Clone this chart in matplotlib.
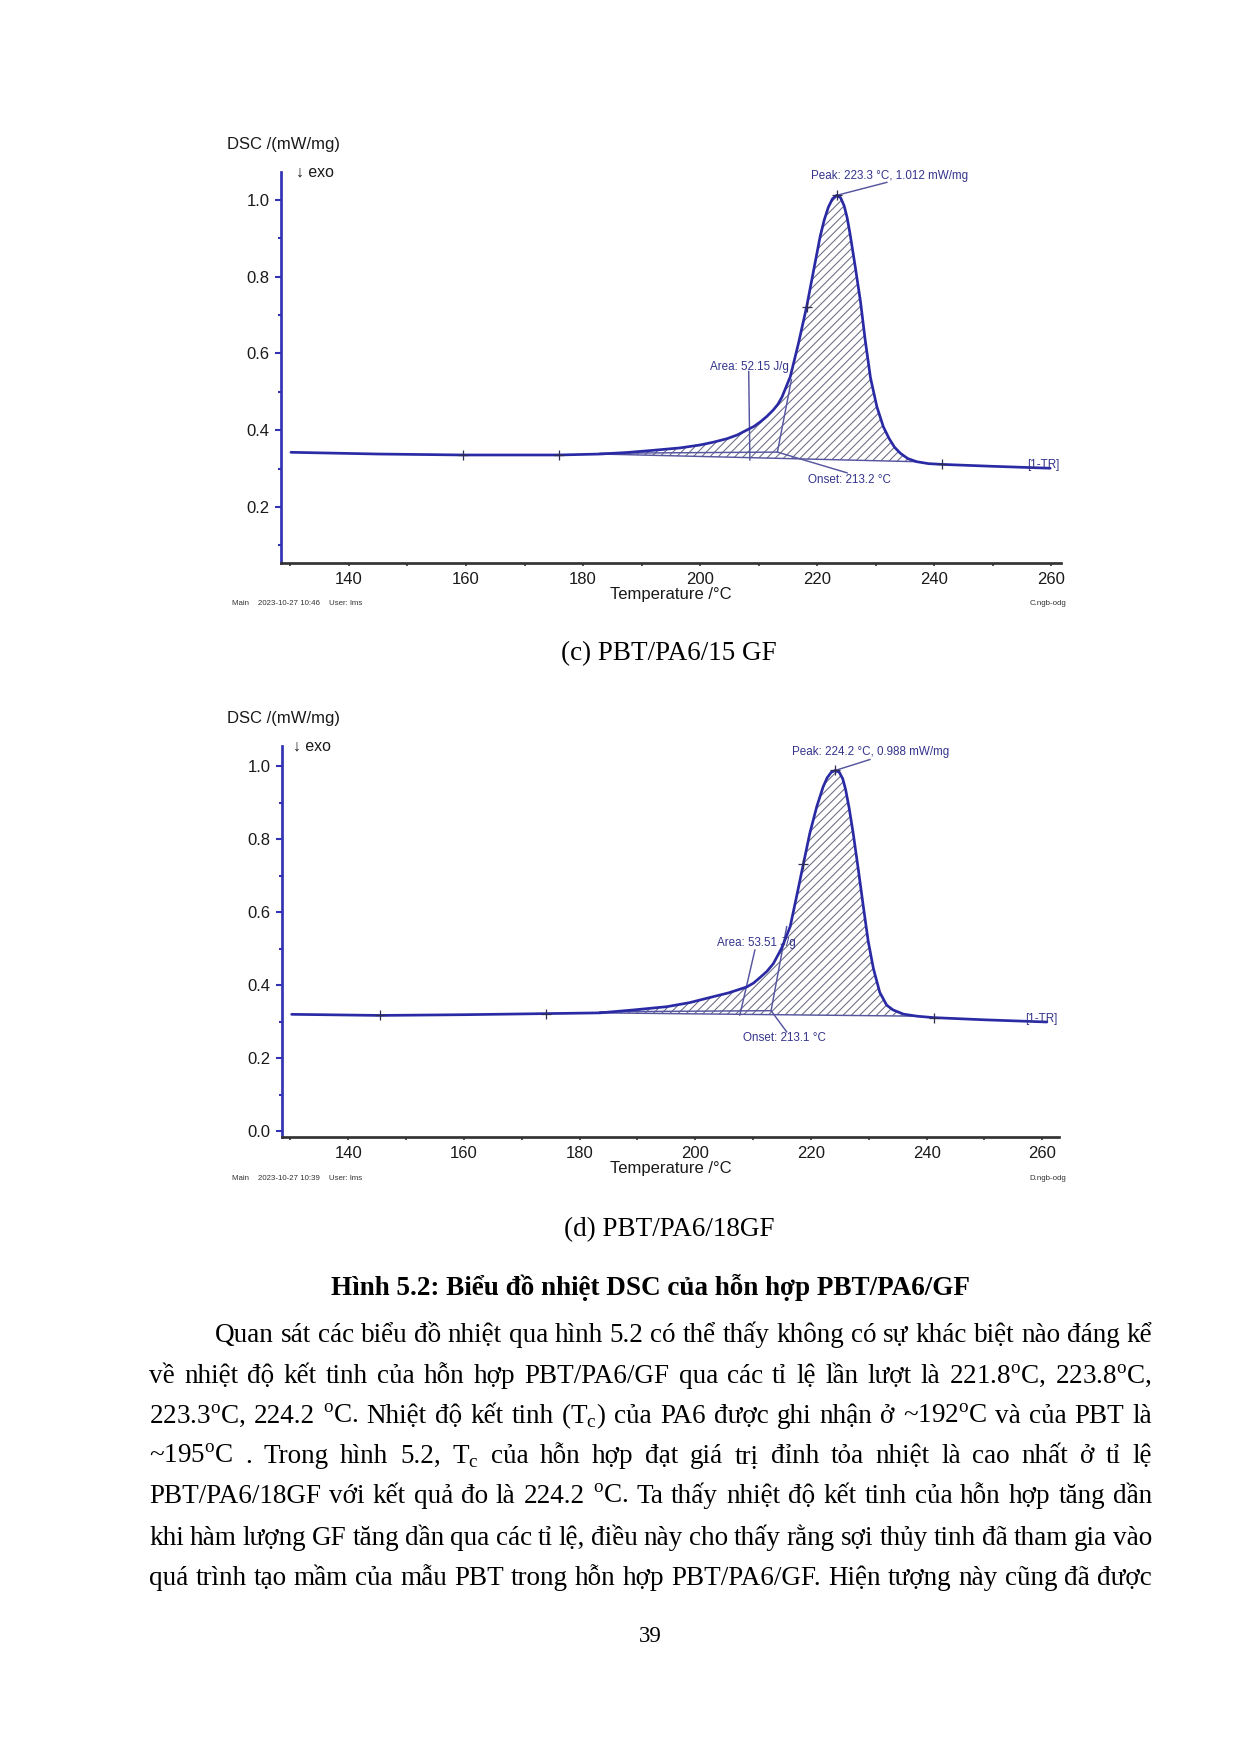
import numpy as np
import matplotlib
matplotlib.use('Agg')
import matplotlib.pyplot as plt
from matplotlib.ticker import MultipleLocator, FixedLocator

# ---- data ----
temp_c = [130.1, 145.0, 159.5, 175.9, 182.9, 187.5, 191.5, 196.6, 200.0, 202.3,
          204.6, 206.4, 208.0, 209.2, 210.3, 211.4, 212.5, 213.3, 214.0, 215.4,
          216.8, 218.2, 219.4, 220.5, 221.2, 221.9, 222.6, 223.3, 224.0, 224.6,
          225.1, 225.6, 226.5, 227.4, 228.2, 229.1, 230.2, 231.3, 232.3, 233.2,
          234.2, 235.5, 237.0, 239.0, 241.3, 250.0, 259.8]
dsc_c = [0.3425, 0.338, 0.3355, 0.3355, 0.338, 0.342, 0.347, 0.354, 0.3616, 0.369,
         0.378, 0.388, 0.4007, 0.410, 0.422, 0.436, 0.4528, 0.468, 0.487, 0.5395,
         0.6265, 0.722, 0.8176, 0.9044, 0.948, 0.981, 1.003, 1.012, 1.006, 0.985,
         0.955, 0.913, 0.826, 0.735, 0.635, 0.537, 0.461, 0.409, 0.378, 0.356,
         0.340, 0.326, 0.318, 0.313, 0.311, 0.306, 0.301]

temp_d = [130.2, 145.5, 160.0, 174.2, 183.5, 189.3, 195.1, 199.0, 202.5, 205.8,
          208.9, 210.1, 211.2, 212.4, 213.5, 214.9, 216.4, 217.5, 218.7, 219.8,
          221.0, 222.1, 222.8, 223.5, 224.2, 224.9, 225.5, 226.0, 226.6, 227.3,
          228.2, 229.1, 229.9, 230.8, 231.9, 233.1, 234.2, 236.0, 238.3, 241.2,
          250.0, 260.8]
dsc_d = [0.320, 0.317, 0.319, 0.322, 0.324, 0.332, 0.341, 0.352, 0.366, 0.379,
         0.395, 0.406, 0.421, 0.438, 0.459, 0.5005, 0.560, 0.642, 0.733, 0.816,
         0.889, 0.943, 0.968, 0.983, 0.988, 0.983, 0.965, 0.935, 0.885, 0.816,
         0.715, 0.610, 0.520, 0.445, 0.380, 0.345, 0.332, 0.3205, 0.315, 0.311,
         0.305, 0.299]

# cursor marks (+) placed by the software
marks_c = [(159.5, 0.3355), (175.9, 0.3355), (218.2, 0.722), (223.3, 1.012), (241.3, 0.311)]
marks_d = [(145.5, 0.317), (174.2, 0.322), (218.7, 0.733), (224.2, 0.988), (241.2, 0.311)]

# evaluation: integration range, onset construction
integ_c = (182.9, 237.0)
integ_d = (183.5, 238.3)
ext_base_c = [(182.9, 0.340), (213.2, 0.343)]
ext_base_d = [(183.5, 0.327), (213.1, 0.330)]
tangent_c = [(215.6, 0.532), (213.2, 0.343)]
tangent_d = [(215.8, 0.560), (213.1, 0.330)]
area_lead_c = [(208.3, 0.553), (208.5, 0.3225)]
area_lead_d = [(210.3, 0.496), (207.7, 0.318)]
onset_lead_c = [(213.2, 0.343), (225.1, 0.289)]
onset_lead_d = [(213.1, 0.330), (215.8, 0.272)]
peak_lead_c = [(223.3, 1.012), (231.9, 1.046)]
peak_lead_d = [(224.2, 0.988), (230.2, 1.018)]

peak_txt_c = "Peak: 223.3 °C, 1.012 mW/mg"
peak_txt_d = "Peak: 224.2 °C, 0.988 mW/mg"
area_txt_c = "Area: 52.15 J/g"
area_txt_d = "Area: 53.51 J/g"
onset_txt_c = "Onset: 213.2 °C"
onset_txt_d = "Onset: 213.1 °C"

W, H, DPI = 1240, 1754, 150
plt.rcParams['mathtext.fontset'] = 'custom'
plt.rcParams['mathtext.rm'] = 'Liberation Serif'
plt.rcParams['hatch.linewidth'] = 0.5
SANS = ['Liberation Sans', 'DejaVu Sans']
SERIF = ['Liberation Serif', 'DejaVu Serif']

fig = plt.figure(figsize=(W / DPI, H / DPI), dpi=DPI)
fig.patch.set_facecolor('white')


def fx(px):
    return px / W


def fy(py):
    return 1 - py / H


CURVE = '#2a2aa5'
ANN = '#34348c'
BLUE_AX = '#3232b4'


def dsc_panel(box, xlim, ylim, yticks, T, D, marks, integ, ext_base, tangent,
              area_lead, onset_lead, peak_lead, txts, footer, fname, ylab_y, exo_xy):
    left, top, right, bottom = box
    ax = fig.add_axes([fx(left), fy(bottom), (right - left) / W, (bottom - top) / H])
    ax.set_xlim(*xlim)
    ax.set_ylim(*ylim)
    for s in ['top', 'right']:
        ax.spines[s].set_visible(False)
    ax.spines['left'].set_color(BLUE_AX)
    ax.spines['left'].set_linewidth(1.3)
    ax.spines['bottom'].set_color('#333333')
    ax.spines['bottom'].set_linewidth(1.3)
    ax.xaxis.set_major_locator(MultipleLocator(20))
    ax.xaxis.set_minor_locator(FixedLocator([130, 150, 170, 190, 210, 230, 250]))
    ax.yaxis.set_major_locator(FixedLocator(yticks))
    ax.yaxis.set_minor_locator(FixedLocator([0.1, 0.3, 0.5, 0.7, 0.9]))
    ax.yaxis.set_major_formatter(plt.FuncFormatter(lambda v, p: f"{v:.1f}"))
    ax.tick_params(axis='y', which='major', colors=BLUE_AX, length=3, width=1,
                   pad=2.4, labelcolor='#1a1a1a', labelsize=8)
    ax.tick_params(axis='y', which='minor', colors=BLUE_AX, length=1.5, width=1)
    ax.tick_params(axis='x', which='both', colors='#333333', length=1.6, width=0.8,
                   pad=2.6, labelcolor='#1a1a1a', labelsize=8)
    for lab in ax.get_xticklabels() + ax.get_yticklabels():
        lab.set_family(SANS)

    T = np.asarray(T)
    D = np.asarray(D)
    sel = (T >= integ[0]) & (T <= integ[1])
    ax.fill(T[sel], D[sel], facecolor='none', edgecolor='#6a6a82', hatch='//////',
            linewidth=0)
    ax.plot([T[sel][0], T[sel][-1]], [D[sel][0], D[sel][-1]], color='#5656a0', lw=0.7)
    for seg in (ext_base, tangent, area_lead, onset_lead, peak_lead):
        xs, ys = zip(*seg)
        ax.plot(xs, ys, color='#5656a0', lw=0.7)
    ax.plot(T, D, color=CURVE, lw=1.3, solid_joinstyle='round', solid_capstyle='round')
    mx, my = zip(*marks)
    ax.plot(mx, my, ls='none', marker='+', ms=5, mew=0.6, color='#2e2e55')

    for (tx, ty, s) in txts:
        ax.text(tx, ty, s, fontsize=5.6, color=ANN, family=SANS, va='center', ha='left')

    fig.text(fx(227), fy(ylab_y), "DSC /(mW/mg)", fontsize=8, family=SANS,
             color='#1a1a1a', va='center', ha='left')
    fig.text(fx(exo_xy[0]), fy(exo_xy[1]), "↓ exo", fontsize=7.6, family=SANS,
             color='#1a1a1a', va='center', ha='left')
    fig.text(fx((left + right) / 2), fy(bottom + 31), "Temperature /°C", fontsize=8,
             family=SANS, color='#1a1a1a', va='center', ha='center')
    fig.text(fx(232), fy(bottom + 41), footer, fontsize=3.8, family=SANS,
             color='#333333', va='center', ha='left')
    fig.text(fx(1066), fy(bottom + 41), fname, fontsize=3.8, family=SANS,
             color='#333333', va='center', ha='right')
    return ax


dsc_panel((281, 172, 1061, 563), (128.4, 261.65), (0.054, 1.073),
          [0.2, 0.4, 0.6, 0.8, 1.0], temp_c, dsc_c, marks_c, integ_c, ext_base_c,
          tangent_c, area_lead_c, onset_lead_c, peak_lead_c,
          [(218.9, 1.062, peak_txt_c), (201.7, 0.566, area_txt_c),
           (218.5, 0.270, onset_txt_c), (255.8, 0.309, "[1-TR]")],
          "Main    2023-10-27 10:46    User: lms", "C.ngb-odg", 145, (296, 172))

dsc_panel((281.7, 746, 1059.3, 1137), (128.48, 262.94), (-0.016, 1.055),
          [0.0, 0.2, 0.4, 0.6, 0.8, 1.0], temp_d, dsc_d, marks_d, integ_d, ext_base_d,
          tangent_d, area_lead_d, onset_lead_d, peak_lead_d,
          [(216.7, 1.0375, peak_txt_d), (203.8, 0.516, area_txt_d),
           (208.3, 0.254, onset_txt_d), (257.0, 0.3077, "[1-TR]")],
          "Main    2023-10-27 10:39    User: lms", "D.ngb-odg", 719, (293, 746))

# ---- captions and body text ----
fig.text(fx(669), fy(654), "(c) PBT/PA6/15 GF", fontsize=13, family=SERIF,
         ha='center', va='center')
fig.text(fx(669), fy(1230), "(d) PBT/PA6/18GF", fontsize=13, family=SERIF,
         ha='center', va='center')
fig.text(fx(650), fy(1287), "Hình 5.2: Biểu đồ nhiệt DSC của hỗn hợp PBT/PA6/GF",
         fontsize=13, family=SERIF, fontweight='bold', ha='center', va='center')

deg = "$^\\mathregular{o}$"
sub_c = "$_\\mathregular{c}$"
lines = [
    "Quan sát các biểu đồ nhiệt qua hình 5.2 có thể thấy không có sự khác biệt nào đáng kể",
    f"về nhiệt độ kết tinh của hỗn hợp PBT/PA6/GF qua các tỉ lệ lần lượt là 221.8{deg}C, 223.8{deg}C,",
    f"223.3{deg}C, 224.2 {deg}C. Nhiệt độ kết tinh (T{sub_c}) của PA6 được ghi nhận ở ~192{deg}C và của PBT là",
    f"~195{deg}C . Trong hình 5.2, T{sub_c} của hỗn hợp đạt giá trị đỉnh tỏa nhiệt là cao nhất ở tỉ lệ",
    f"PBT/PA6/18GF với kết quả đo là 224.2 {deg}C. Ta thấy nhiệt độ kết tinh của hỗn hợp tăng dần",
    "khi hàm lượng GF tăng dần qua các tỉ lệ, điều này cho thấy rằng sợi thủy tinh đã tham gia vào",
    "quá trình tạo mầm của mẫu PBT trong hỗn hợp PBT/PA6/GF. Hiện tượng này cũng đã được",
]
line_y = [1334, 1375, 1415, 1455, 1495, 1537, 1577]
x_left, x_indent, x_right = 149, 215, 1152

renderer = fig.canvas.get_renderer()


def measure(words, size):
    out = []
    for w in words:
        t = fig.text(0, 0, w, fontsize=size, family=SERIF)
        out.append(t.get_window_extent(renderer).width)
        t.remove()
    return out


# shrink the font only if some line cannot fit with a minimal gap
size = 13.0
ratio = 1.0
for i, ln in enumerate(lines):
    words = ln.split(' ')
    x0 = x_indent if i == 0 else x_left
    wsum = sum(measure(words, size))
    need = wsum + (len(words) - 1) * 3.5
    ratio = min(ratio, (x_right - x0) / need)
size = size * min(1.0, ratio)

for i, ln in enumerate(lines):
    words = ln.split(' ')
    x0 = x_indent if i == 0 else x_left
    widths = measure(words, size)
    gap = (x_right - x0 - sum(widths)) / (len(words) - 1)
    x = x0
    for w, wd in zip(words, widths):
        fig.text(fx(x), fy(line_y[i] + 8), w, fontsize=size, family=SERIF,
                 va='baseline', ha='left')
        x += wd + gap

fig.text(fx(650), fy(1636), "39", fontsize=11, family=SERIF, ha='center', va='center')

fig.savefig('out.png', dpi=DPI)
